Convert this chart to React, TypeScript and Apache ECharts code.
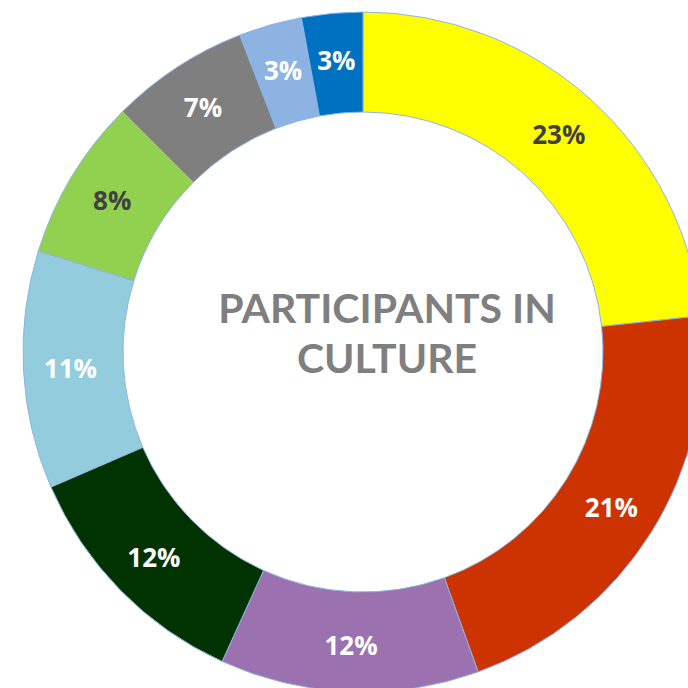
import React, { useEffect, useRef } from "react";
import * as echarts from "echarts";

const categories = ["A", "B", "C", "D", "E", "F", "G", "H", "I"];
const values = [23.3, 21.2, 12.3, 11.7, 11.3, 7.7, 6.6, 3.0, 2.9];
const colors = ["#FFFF00", "#CC3300", "#9B72AF", "#003300", "#93CDDD", "#92D050", "#7F7F7F", "#8DB3E2", "#0070C0"];
const labelColors = ["#404040", "#FFFFFF", "#FFFFFF", "#FFFFFF", "#FFFFFF", "#404040", "#FFFFFF", "#FFFFFF", "#FFFFFF"];
const titleLines = ["PARTICIPANTS IN", "CULTURE"];

export default function App() {
  const ref = useRef<HTMLDivElement>(null);
  useEffect(() => {
    if (!ref.current) return;
    const chart = echarts.init(ref.current, null, { renderer: "svg" });
    chart.setOption({
      animation: false,
      backgroundColor: "#FFFFFF",
      series: [
        {
          type: "pie",
          center: [363, 352],
          radius: [240, 340],
          startAngle: 90,
          clockwise: true,
          avoidLabelOverlap: false,
          label: {
            show: true,
            position: "inside",
            fontSize: 26,
            fontWeight: "bold",
            fontFamily: "Open Sans",
            formatter: (p: any) => Math.round(p.value) + "%",
          },
          labelLine: { show: false },
          itemStyle: { borderColor: "#8EB4E3", borderWidth: 1 },
          emphasis: { disabled: true },
          data: categories.map((c, i) => ({
            name: c,
            value: values[i],
            itemStyle: { color: colors[i] },
            label: { color: labelColors[i] },
          })),
        },
      ],
      graphic: titleLines.map((t, i) => ({
        type: "text",
        x: 387,
        y: 307 + i * 50,
        style: {
          text: t,
          fill: "#7F7F7F",
          font: "bold 41px Lato",
          textAlign: "center",
          textVerticalAlign: "middle",
        },
      })),
    });
    return () => chart.dispose();
  }, []);
  return (
    <div
      ref={ref}
      style={{ position: "fixed", left: 0, top: 0, width: 688, height: 688 }}
    />
  );
}
